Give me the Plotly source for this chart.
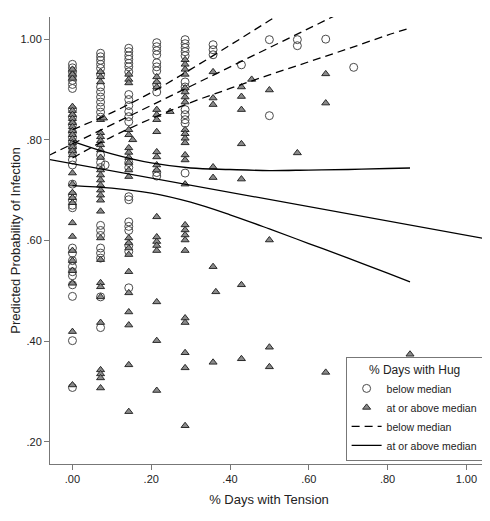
import plotly.graph_objects as go

# Days with tension (x) and predicted probability of infection (y)
# Hug below median: open circles
below_x = (
    [0.0] * 32
    + [0.0714] * 24 + [0.083]
    + [0.143] * 23
    + [0.214] * 11
    + [0.286] * 12
    + [0.357] * 3
    + [0.429, 0.5, 0.5, 0.571, 0.571, 0.643, 0.714]
)
below_y = [
    # .00
    0.950, 0.943, 0.935, 0.927, 0.918, 0.910, 0.902, 0.860, 0.845, 0.830,
    0.815, 0.805, 0.795, 0.785, 0.775, 0.760, 0.750, 0.712, 0.690, 0.680,
    0.670, 0.665, 0.585, 0.575, 0.560, 0.548, 0.538, 0.530, 0.512, 0.489,
    0.401, 0.308,
    # .07
    0.972, 0.965, 0.958, 0.950, 0.942, 0.930, 0.905, 0.895, 0.885, 0.875,
    0.865, 0.855, 0.845, 0.770, 0.755, 0.745, 0.630, 0.620, 0.610, 0.585,
    0.575, 0.565, 0.488, 0.427, 0.750,
    # .14
    0.982, 0.975, 0.967, 0.960, 0.952, 0.945, 0.935, 0.890, 0.880, 0.868,
    0.856, 0.846, 0.836, 0.755, 0.745, 0.687, 0.681, 0.637, 0.628, 0.620,
    0.590, 0.578, 0.506,
    # .21
    0.993, 0.985, 0.977, 0.969, 0.953, 0.945, 0.937, 0.910, 0.895, 0.735,
    0.728,
    # .29
    0.999, 0.991, 0.983, 0.975, 0.967, 0.915, 0.905, 0.860, 0.850, 0.840,
    0.833, 0.734,
    # .36
    0.989, 0.979, 0.969,
    # rest
    0.949, 0.999, 0.848, 0.999, 0.987, 1.000, 0.944,
]

# Hug at or above median: filled triangles
above_x = (
    [0.0] * 29
    + [0.0714] * 28 + [0.079]
    + [0.143] * 21 + [0.153]
    + [0.214] * 19 + [0.248]
    + [0.286] * 25
    + [0.357] * 7 + [0.364]
    + [0.429] * 7 + [0.455]
    + [0.5] * 4
    + [0.571]
    + [0.643] * 3
    + [0.857]
)
above_y = [
    # .00
    0.940, 0.930, 0.922, 0.866, 0.858, 0.850, 0.842, 0.834, 0.826, 0.818,
    0.810, 0.802, 0.794, 0.786, 0.778, 0.770, 0.734, 0.712, 0.695, 0.685,
    0.675, 0.635, 0.608, 0.580, 0.560, 0.540, 0.515, 0.419, 0.313,
    # .07
    0.935, 0.925, 0.915, 0.840, 0.814, 0.806, 0.798, 0.790, 0.780, 0.765,
    0.740, 0.730, 0.720, 0.710, 0.700, 0.690, 0.680, 0.658, 0.605, 0.562,
    0.516, 0.508, 0.488, 0.437, 0.343, 0.335, 0.327, 0.307, 0.843,
    # .14
    0.930, 0.920, 0.913, 0.820, 0.810, 0.784, 0.775, 0.765, 0.755, 0.740,
    0.727, 0.605, 0.595, 0.585, 0.572, 0.538, 0.496, 0.458, 0.432, 0.353,
    0.260, 0.800,
    # .21
    0.925, 0.915, 0.905, 0.860, 0.850, 0.840, 0.816, 0.776, 0.766, 0.750,
    0.740, 0.647, 0.607, 0.598, 0.590, 0.580, 0.478, 0.401, 0.302, 0.856,
    # .29
    0.959, 0.950, 0.940, 0.930, 0.903, 0.895, 0.885, 0.875, 0.820, 0.812,
    0.803, 0.794, 0.770, 0.760, 0.712, 0.631, 0.621, 0.611, 0.601, 0.580,
    0.446, 0.437, 0.377, 0.347, 0.232,
    # .36
    0.935, 0.883, 0.870, 0.746, 0.725, 0.548, 0.358, 0.498,
    # .43
    0.905, 0.886, 0.860, 0.792, 0.722, 0.512, 0.365, 0.920,
    # .50 and beyond
    0.899, 0.601, 0.388, 0.349,
    0.774,
    0.931, 0.873, 0.338,
    0.374,
]

# Linear fit lines (whole axis) and 95% CI curves (data range)
fit_x = [-0.06, 1.06]
fit_below_y = [0.769, 1.197]
fit_above_y = [0.761, 0.602]

ci_x = [0.0, 0.1, 0.2, 0.3, 0.4, 0.5, 0.6, 0.7, 0.8, 0.857]
ci_below_hi = [0.820, 0.854, 0.894, 0.940, 0.988, 1.037, 1.087, 1.137, 1.188, 1.216]
ci_below_lo = [0.764, 0.806, 0.842, 0.874, 0.902, 0.929, 0.955, 0.981, 1.008, 1.022]
ci_above_hi = [0.797, 0.772, 0.754, 0.744, 0.741, 0.739, 0.740, 0.741, 0.743, 0.744]
ci_above_lo = [0.709, 0.704, 0.694, 0.676, 0.651, 0.623, 0.594, 0.565, 0.535, 0.518]

x_ticks = [0, 0.2, 0.4, 0.6, 0.8, 1.0]
x_labels = [".00", ".20", ".40", ".60", ".80", "1.00"]
y_ticks = [0.2, 0.4, 0.6, 0.8, 1.0]
y_labels = [".20", ".40", ".60", ".80", "1.00"]

DASH = "8px,5px"

fig = go.Figure()

fig.add_scatter(
    x=below_x, y=below_y, mode="markers", name="below median",
    marker=dict(symbol="circle-open", size=8, color="#4a4a4a", line=dict(width=1)),
)
fig.add_scatter(
    x=above_x, y=above_y, mode="markers", name="at or above median",
    marker=dict(symbol="triangle-up", size=7, color="#8a8a8a",
                line=dict(width=1, color="#2a2a2a")),
)
fig.add_scatter(
    x=fit_x, y=fit_below_y, mode="lines", name="below median",
    line=dict(color="black", width=1.3, dash=DASH),
)
fig.add_scatter(
    x=fit_x, y=fit_above_y, mode="lines", name="at or above median",
    line=dict(color="black", width=1.3),
)
for ys, dash in [(ci_below_hi, DASH), (ci_below_lo, DASH),
                 (ci_above_hi, "solid"), (ci_above_lo, "solid")]:
    fig.add_scatter(
        x=ci_x, y=ys, mode="lines", showlegend=False,
        line=dict(color="black", width=1.3, dash=dash, shape="spline"),
    )

fig.update_xaxes(
    range=[-0.057, 1.055],
    tickvals=x_ticks, ticktext=x_labels,
    title_text="% Days with Tension",
    title_standoff=10,
    showline=True, linecolor="#777777", linewidth=1,
    ticks="outside", tickcolor="#777777", ticklen=5,
    showgrid=False, zeroline=False,
)
fig.update_yaxes(
    range=[0.156, 1.044],
    tickvals=y_ticks, ticktext=y_labels,
    title_text="Predicted Probability of Infection",
    title_standoff=6,
    showline=True, linecolor="#777777", linewidth=1,
    ticks="outside", tickcolor="#777777", ticklen=5,
    showgrid=False, zeroline=False,
)

# the page body adds an 8px offset, so the figure is drawn 8px smaller
fig.update_layout(
    width=482, height=513,
    margin=dict(l=42, r=2, t=9, b=57, autoexpand=False),
    font=dict(family="Liberation Sans, Arial", size=11, color="#222222"),
    plot_bgcolor="white", paper_bgcolor="white",
    legend=dict(
        title=dict(text="% Days with Hug", side="top center", font=dict(size=12)),
        x=0.99, y=0.006, xanchor="right", yanchor="bottom",
        bgcolor="white", bordercolor="#777777", borderwidth=1,
        font=dict(size=10.5), itemwidth=30, tracegroupgap=0,
    ),
)

fig.write_html("out.html")
